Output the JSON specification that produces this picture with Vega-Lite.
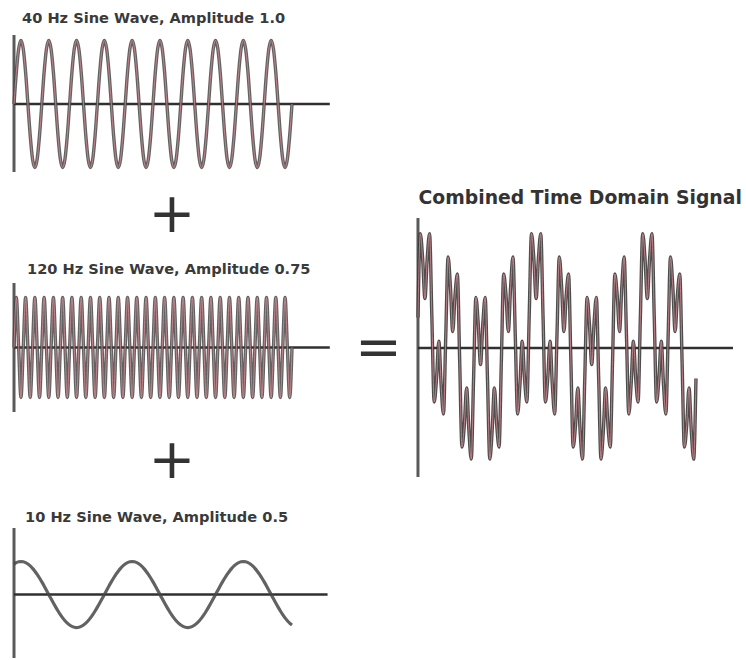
{
  "$schema": "https://vega.github.io/schema/vega-lite/v6.json",
  "width": 746,
  "height": 660,
  "autosize": {"type": "none"},
  "padding": 0,
  "background": "white",
  "config": {"view": {"stroke": null}},
  "datasets": {
    "signals": [
      {"t": 0, "a": 0, "b": 0, "c": 0.4619, "s": 0.4619},
      {"t": 2.083, "a": 0.5, "b": 0.75, "c": 0.483, "s": 1.733},
      {"t": 4.167, "a": 0.866, "b": 0, "c": 0.4957, "s": 1.3617},
      {"t": 6.25, "a": 1, "b": -0.75, "c": 0.5, "s": 0.75},
      {"t": 8.333, "a": 0.866, "b": 0, "c": 0.4957, "s": 1.3617},
      {"t": 10.417, "a": 0.5, "b": 0.75, "c": 0.483, "s": 1.733},
      {"t": 12.5, "a": 0, "b": 0, "c": 0.4619, "s": 0.4619},
      {"t": 14.583, "a": -0.5, "b": -0.75, "c": 0.433, "s": -0.817},
      {"t": 16.667, "a": -0.866, "b": 0, "c": 0.3967, "s": -0.4693},
      {"t": 18.75, "a": -1, "b": 0.75, "c": 0.3536, "s": 0.1036},
      {"t": 20.833, "a": -0.866, "b": 0, "c": 0.3044, "s": -0.5616},
      {"t": 22.917, "a": -0.5, "b": -0.75, "c": 0.25, "s": -1},
      {"t": 25, "a": 0, "b": 0, "c": 0.1913, "s": 0.1913},
      {"t": 27.083, "a": 0.5, "b": 0.75, "c": 0.1294, "s": 1.3794},
      {"t": 29.167, "a": 0.866, "b": 0, "c": 0.0653, "s": 0.9313},
      {"t": 31.25, "a": 1, "b": -0.75, "c": 0, "s": 0.25},
      {"t": 33.333, "a": 0.866, "b": 0, "c": -0.0653, "s": 0.8007},
      {"t": 35.417, "a": 0.5, "b": 0.75, "c": -0.1294, "s": 1.1206},
      {"t": 37.5, "a": 0, "b": 0, "c": -0.1913, "s": -0.1913},
      {"t": 39.583, "a": -0.5, "b": -0.75, "c": -0.25, "s": -1.5},
      {"t": 41.667, "a": -0.866, "b": 0, "c": -0.3044, "s": -1.1704},
      {"t": 43.75, "a": -1, "b": 0.75, "c": -0.3536, "s": -0.6036},
      {"t": 45.833, "a": -0.866, "b": 0, "c": -0.3967, "s": -1.2627},
      {"t": 47.917, "a": -0.5, "b": -0.75, "c": -0.433, "s": -1.683},
      {"t": 50, "a": 0, "b": 0, "c": -0.4619, "s": -0.4619},
      {"t": 52.083, "a": 0.5, "b": 0.75, "c": -0.483, "s": 0.767},
      {"t": 54.167, "a": 0.866, "b": 0, "c": -0.4957, "s": 0.3703},
      {"t": 56.25, "a": 1, "b": -0.75, "c": -0.5, "s": -0.25},
      {"t": 58.333, "a": 0.866, "b": 0, "c": -0.4957, "s": 0.3703},
      {"t": 60.417, "a": 0.5, "b": 0.75, "c": -0.483, "s": 0.767},
      {"t": 62.5, "a": 0, "b": 0, "c": -0.4619, "s": -0.4619},
      {"t": 64.583, "a": -0.5, "b": -0.75, "c": -0.433, "s": -1.683},
      {"t": 66.667, "a": -0.866, "b": 0, "c": -0.3967, "s": -1.2627},
      {"t": 68.75, "a": -1, "b": 0.75, "c": -0.3536, "s": -0.6036},
      {"t": 70.833, "a": -0.866, "b": 0, "c": -0.3044, "s": -1.1704},
      {"t": 72.917, "a": -0.5, "b": -0.75, "c": -0.25, "s": -1.5},
      {"t": 75, "a": 0, "b": 0, "c": -0.1913, "s": -0.1913},
      {"t": 77.083, "a": 0.5, "b": 0.75, "c": -0.1294, "s": 1.1206},
      {"t": 79.167, "a": 0.866, "b": 0, "c": -0.0653, "s": 0.8007},
      {"t": 81.25, "a": 1, "b": -0.75, "c": 0, "s": 0.25},
      {"t": 83.333, "a": 0.866, "b": 0, "c": 0.0653, "s": 0.9313},
      {"t": 85.417, "a": 0.5, "b": 0.75, "c": 0.1294, "s": 1.3794},
      {"t": 87.5, "a": 0, "b": 0, "c": 0.1913, "s": 0.1913},
      {"t": 89.583, "a": -0.5, "b": -0.75, "c": 0.25, "s": -1},
      {"t": 91.667, "a": -0.866, "b": 0, "c": 0.3044, "s": -0.5616},
      {"t": 93.75, "a": -1, "b": 0.75, "c": 0.3536, "s": 0.1036},
      {"t": 95.833, "a": -0.866, "b": 0, "c": 0.3967, "s": -0.4693},
      {"t": 97.917, "a": -0.5, "b": -0.75, "c": 0.433, "s": -0.817},
      {"t": 100, "a": 0, "b": 0, "c": 0.4619, "s": 0.4619},
      {"t": 102.083, "a": 0.5, "b": 0.75, "c": 0.483, "s": 1.733},
      {"t": 104.167, "a": 0.866, "b": 0, "c": 0.4957, "s": 1.3617},
      {"t": 106.25, "a": 1, "b": -0.75, "c": 0.5, "s": 0.75},
      {"t": 108.333, "a": 0.866, "b": 0, "c": 0.4957, "s": 1.3617},
      {"t": 110.417, "a": 0.5, "b": 0.75, "c": 0.483, "s": 1.733},
      {"t": 112.5, "a": 0, "b": 0, "c": 0.4619, "s": 0.4619},
      {"t": 114.583, "a": -0.5, "b": -0.75, "c": 0.433, "s": -0.817},
      {"t": 116.667, "a": -0.866, "b": 0, "c": 0.3967, "s": -0.4693},
      {"t": 118.75, "a": -1, "b": 0.75, "c": 0.3536, "s": 0.1036},
      {"t": 120.833, "a": -0.866, "b": 0, "c": 0.3044, "s": -0.5616},
      {"t": 122.917, "a": -0.5, "b": -0.75, "c": 0.25, "s": -1},
      {"t": 125, "a": 0, "b": 0, "c": 0.1913, "s": 0.1913},
      {"t": 127.083, "a": 0.5, "b": 0.75, "c": 0.1294, "s": 1.3794},
      {"t": 129.167, "a": 0.866, "b": 0, "c": 0.0653, "s": 0.9313},
      {"t": 131.25, "a": 1, "b": -0.75, "c": 0, "s": 0.25},
      {"t": 133.333, "a": 0.866, "b": 0, "c": -0.0653, "s": 0.8007},
      {"t": 135.417, "a": 0.5, "b": 0.75, "c": -0.1294, "s": 1.1206},
      {"t": 137.5, "a": 0, "b": 0, "c": -0.1913, "s": -0.1913},
      {"t": 139.583, "a": -0.5, "b": -0.75, "c": -0.25, "s": -1.5},
      {"t": 141.667, "a": -0.866, "b": 0, "c": -0.3044, "s": -1.1704},
      {"t": 143.75, "a": -1, "b": 0.75, "c": -0.3536, "s": -0.6036},
      {"t": 145.833, "a": -0.866, "b": 0, "c": -0.3967, "s": -1.2627},
      {"t": 147.917, "a": -0.5, "b": -0.75, "c": -0.433, "s": -1.683},
      {"t": 150, "a": 0, "b": 0, "c": -0.4619, "s": -0.4619},
      {"t": 152.083, "a": 0.5, "b": 0.75, "c": -0.483, "s": 0.767},
      {"t": 154.167, "a": 0.866, "b": 0, "c": -0.4957, "s": 0.3703},
      {"t": 156.25, "a": 1, "b": -0.75, "c": -0.5, "s": -0.25},
      {"t": 158.333, "a": 0.866, "b": 0, "c": -0.4957, "s": 0.3703},
      {"t": 160.417, "a": 0.5, "b": 0.75, "c": -0.483, "s": 0.767},
      {"t": 162.5, "a": 0, "b": 0, "c": -0.4619, "s": -0.4619},
      {"t": 164.583, "a": -0.5, "b": -0.75, "c": -0.433, "s": -1.683},
      {"t": 166.667, "a": -0.866, "b": 0, "c": -0.3967, "s": -1.2627},
      {"t": 168.75, "a": -1, "b": 0.75, "c": -0.3536, "s": -0.6036},
      {"t": 170.833, "a": -0.866, "b": 0, "c": -0.3044, "s": -1.1704},
      {"t": 172.917, "a": -0.5, "b": -0.75, "c": -0.25, "s": -1.5},
      {"t": 175, "a": 0, "b": 0, "c": -0.1913, "s": -0.1913},
      {"t": 177.083, "a": 0.5, "b": 0.75, "c": -0.1294, "s": 1.1206},
      {"t": 179.167, "a": 0.866, "b": 0, "c": -0.0653, "s": 0.8007},
      {"t": 181.25, "a": 1, "b": -0.75, "c": 0, "s": 0.25},
      {"t": 183.333, "a": 0.866, "b": 0, "c": 0.0653, "s": 0.9313},
      {"t": 185.417, "a": 0.5, "b": 0.75, "c": 0.1294, "s": 1.3794},
      {"t": 187.5, "a": 0, "b": 0, "c": 0.1913, "s": 0.1913},
      {"t": 189.583, "a": -0.5, "b": -0.75, "c": 0.25, "s": -1},
      {"t": 191.667, "a": -0.866, "b": 0, "c": 0.3044, "s": -0.5616},
      {"t": 193.75, "a": -1, "b": 0.75, "c": 0.3536, "s": 0.1036},
      {"t": 195.833, "a": -0.866, "b": 0, "c": 0.3967, "s": -0.4693},
      {"t": 197.917, "a": -0.5, "b": -0.75, "c": 0.433, "s": -0.817},
      {"t": 200, "a": 0, "b": 0, "c": 0.4619, "s": 0.4619},
      {"t": 202.083, "a": 0.5, "b": 0.75, "c": 0.483, "s": 1.733},
      {"t": 204.167, "a": 0.866, "b": 0, "c": 0.4957, "s": 1.3617},
      {"t": 206.25, "a": 1, "b": -0.75, "c": 0.5, "s": 0.75},
      {"t": 208.333, "a": 0.866, "b": 0, "c": 0.4957, "s": 1.3617},
      {"t": 210.417, "a": 0.5, "b": 0.75, "c": 0.483, "s": 1.733},
      {"t": 212.5, "a": 0, "b": 0, "c": 0.4619, "s": 0.4619},
      {"t": 214.583, "a": -0.5, "b": -0.75, "c": 0.433, "s": -0.817},
      {"t": 216.667, "a": -0.866, "b": 0, "c": 0.3967, "s": -0.4693},
      {"t": 218.75, "a": -1, "b": 0.75, "c": 0.3536, "s": 0.1036},
      {"t": 220.833, "a": -0.866, "b": 0, "c": 0.3044, "s": -0.5616},
      {"t": 222.917, "a": -0.5, "b": -0.75, "c": 0.25, "s": -1},
      {"t": 225, "a": 0, "b": 0, "c": 0.1913, "s": 0.1913},
      {"t": 227.083, "a": 0.5, "b": 0.75, "c": 0.1294, "s": 1.3794},
      {"t": 229.167, "a": 0.866, "b": 0, "c": 0.0653, "s": 0.9313},
      {"t": 231.25, "a": 1, "b": -0.75, "c": 0, "s": 0.25},
      {"t": 233.333, "a": 0.866, "b": 0, "c": -0.0653, "s": 0.8007},
      {"t": 235.417, "a": 0.5, "b": 0.75, "c": -0.1294, "s": 1.1206},
      {"t": 237.5, "a": 0, "b": 0, "c": -0.1913, "s": -0.1913},
      {"t": 239.583, "a": -0.5, "b": -0.75, "c": -0.25, "s": -1.5},
      {"t": 241.667, "a": -0.866, "b": 0, "c": -0.3044, "s": -1.1704},
      {"t": 243.75, "a": -1, "b": 0.75, "c": -0.3536, "s": -0.6036},
      {"t": 245.833, "a": -0.866, "b": 0, "c": -0.3967, "s": -1.2627},
      {"t": 247.917, "a": -0.5, "b": -0.75, "c": -0.433, "s": -1.683},
      {"t": 250, "a": 0, "b": 0, "c": -0.4619, "s": -0.4619}
    ]
  },
  "layer": [
    {
      "layer": [
        {
          "data": {"values": [{}]},
          "mark": {"type": "rule", "color": "#5a5a5a", "strokeWidth": 3},
          "encoding": {
            "x": {"datum": 0, "type": "quantitative", "scale": {"domain": [-12.6, 658.3], "nice": false, "zero": false}, "axis": null},
            "y": {"datum": -1.071, "type": "quantitative", "scale": {"domain": [-8.756, 1.638], "nice": false, "zero": false}, "axis": null},
            "y2": {"datum": 1.087}
          }
        },
        {
          "data": {"values": [{}]},
          "mark": {"type": "rule", "color": "#303030", "strokeWidth": 2.5},
          "encoding": {
            "x": {"datum": 0, "type": "quantitative", "scale": {"domain": [-12.6, 658.3], "nice": false, "zero": false}, "axis": null},
            "x2": {"datum": 284},
            "y": {"datum": 0, "type": "quantitative", "scale": {"domain": [-8.756, 1.638], "nice": false, "zero": false}, "axis": null}
          }
        },
        {
          "data": {"name": "signals"},
          "mark": {"type": "line", "interpolate": "monotone", "color": "#474747", "strokeWidth": 3.4, "opacity": 0.85},
          "encoding": {
            "x": {"field": "t", "type": "quantitative", "scale": {"domain": [-12.6, 658.3], "nice": false, "zero": false}, "axis": null},
            "y": {"field": "a", "type": "quantitative", "scale": {"domain": [-8.756, 1.638], "nice": false, "zero": false}, "axis": null}
          }
        },
        {
          "data": {"name": "signals"},
          "mark": {"type": "line", "interpolate": "monotone", "color": "#d08a90", "strokeWidth": 1, "opacity": 0.85},
          "encoding": {
            "x": {"field": "t", "type": "quantitative", "scale": {"domain": [-12.6, 658.3], "nice": false, "zero": false}, "axis": null},
            "y": {"field": "a", "type": "quantitative", "scale": {"domain": [-8.756, 1.638], "nice": false, "zero": false}, "axis": null}
          }
        },
        {
          "data": {"values": [{}]},
          "mark": {"type": "text", "text": "40 Hz Sine Wave, Amplitude 1.0", "align": "left", "baseline": "alphabetic", "font": "DejaVu Sans", "fontWeight": "bold", "fontSize": 14.6, "color": "#3a3a3a"},
          "encoding": {
            "x": {"datum": 7.2, "type": "quantitative", "scale": {"domain": [-12.6, 658.3], "nice": false, "zero": false}, "axis": null},
            "y": {"datum": 1.283, "type": "quantitative", "scale": {"domain": [-8.756, 1.638], "nice": false, "zero": false}, "axis": null}
          }
        },
        {
          "data": {"values": [{}]},
          "mark": {"type": "text", "text": "+", "align": "center", "baseline": "middle", "font": "DejaVu Sans", "fontSize": 56, "color": "#333333"},
          "encoding": {
            "x": {"datum": 142.1, "type": "quantitative", "scale": {"domain": [-12.6, 658.3], "nice": false, "zero": false}, "axis": null},
            "y": {"datum": -1.748, "type": "quantitative", "scale": {"domain": [-8.756, 1.638], "nice": false, "zero": false}, "axis": null}
          }
        }
      ]
    },
    {
      "layer": [
        {
          "data": {"values": [{}]},
          "mark": {"type": "rule", "color": "#5a5a5a", "strokeWidth": 3},
          "encoding": {
            "x": {"datum": 0, "type": "quantitative", "scale": {"domain": [-12.6, 658.3], "nice": false, "zero": false}, "axis": null},
            "y": {"datum": -0.967, "type": "quantitative", "scale": {"domain": [-4.685, 5.21], "nice": false, "zero": false}, "axis": null},
            "y2": {"datum": 0.967}
          }
        },
        {
          "data": {"values": [{}]},
          "mark": {"type": "rule", "color": "#303030", "strokeWidth": 2.5},
          "encoding": {
            "x": {"datum": 0, "type": "quantitative", "scale": {"domain": [-12.6, 658.3], "nice": false, "zero": false}, "axis": null},
            "x2": {"datum": 284},
            "y": {"datum": 0, "type": "quantitative", "scale": {"domain": [-4.685, 5.21], "nice": false, "zero": false}, "axis": null}
          }
        },
        {
          "data": {"name": "signals"},
          "mark": {"type": "line", "interpolate": "monotone", "color": "#474747", "strokeWidth": 3.4, "opacity": 0.85},
          "encoding": {
            "x": {"field": "t", "type": "quantitative", "scale": {"domain": [-12.6, 658.3], "nice": false, "zero": false}, "axis": null},
            "y": {"field": "b", "type": "quantitative", "scale": {"domain": [-4.685, 5.21], "nice": false, "zero": false}, "axis": null}
          }
        },
        {
          "data": {"name": "signals"},
          "mark": {"type": "line", "interpolate": "monotone", "color": "#d08a90", "strokeWidth": 1, "opacity": 0.85},
          "encoding": {
            "x": {"field": "t", "type": "quantitative", "scale": {"domain": [-12.6, 658.3], "nice": false, "zero": false}, "axis": null},
            "y": {"field": "b", "type": "quantitative", "scale": {"domain": [-4.685, 5.21], "nice": false, "zero": false}, "axis": null}
          }
        },
        {
          "data": {"values": [{}]},
          "mark": {"type": "text", "text": "120 Hz Sine Wave, Amplitude 0.75", "align": "left", "baseline": "alphabetic", "font": "DejaVu Sans", "fontWeight": "bold", "fontSize": 14.6, "color": "#3a3a3a"},
          "encoding": {
            "x": {"datum": 11.7, "type": "quantitative", "scale": {"domain": [-12.6, 658.3], "nice": false, "zero": false}, "axis": null},
            "y": {"datum": 1.102, "type": "quantitative", "scale": {"domain": [-4.685, 5.21], "nice": false, "zero": false}, "axis": null}
          }
        },
        {
          "data": {"values": [{}]},
          "mark": {"type": "text", "text": "+", "align": "center", "baseline": "middle", "font": "DejaVu Sans", "fontSize": 56, "color": "#333333"},
          "encoding": {
            "x": {"datum": 142.1, "type": "quantitative", "scale": {"domain": [-12.6, 658.3], "nice": false, "zero": false}, "axis": null},
            "y": {"datum": -1.702, "type": "quantitative", "scale": {"domain": [-4.685, 5.21], "nice": false, "zero": false}, "axis": null}
          }
        }
      ]
    },
    {
      "layer": [
        {
          "data": {"values": [{}]},
          "mark": {"type": "rule", "color": "#5a5a5a", "strokeWidth": 3},
          "encoding": {
            "x": {"datum": 0, "type": "quantitative", "scale": {"domain": [-12.6, 658.3], "nice": false, "zero": false}, "axis": null},
            "y": {"datum": -0.962, "type": "quantitative", "scale": {"domain": [-0.992, 9.008], "nice": false, "zero": false}, "axis": null},
            "y2": {"datum": 1.008}
          }
        },
        {
          "data": {"values": [{}]},
          "mark": {"type": "rule", "color": "#303030", "strokeWidth": 2.5},
          "encoding": {
            "x": {"datum": 0, "type": "quantitative", "scale": {"domain": [-12.6, 658.3], "nice": false, "zero": false}, "axis": null},
            "x2": {"datum": 282},
            "y": {"datum": 0, "type": "quantitative", "scale": {"domain": [-0.992, 9.008], "nice": false, "zero": false}, "axis": null}
          }
        },
        {
          "data": {"name": "signals"},
          "mark": {"type": "line", "interpolate": "monotone", "color": "#474747", "strokeWidth": 3.2, "opacity": 0.85},
          "encoding": {
            "x": {"field": "t", "type": "quantitative", "scale": {"domain": [-12.6, 658.3], "nice": false, "zero": false}, "axis": null},
            "y": {"field": "c", "type": "quantitative", "scale": {"domain": [-0.992, 9.008], "nice": false, "zero": false}, "axis": null}
          }
        },
        {
          "data": {"values": [{}]},
          "mark": {"type": "text", "text": "10 Hz Sine Wave, Amplitude 0.5", "align": "left", "baseline": "alphabetic", "font": "DejaVu Sans", "fontWeight": "bold", "fontSize": 14.6, "color": "#3a3a3a"},
          "encoding": {
            "x": {"datum": 9.9, "type": "quantitative", "scale": {"domain": [-12.6, 658.3], "nice": false, "zero": false}, "axis": null},
            "y": {"datum": 1.106, "type": "quantitative", "scale": {"domain": [-0.992, 9.008], "nice": false, "zero": false}, "axis": null}
          }
        }
      ]
    },
    {
      "layer": [
        {
          "data": {"values": [{}]},
          "mark": {"type": "rule", "color": "#5a5a5a", "strokeWidth": 3},
          "encoding": {
            "x": {"datum": 0, "type": "quantitative", "scale": {"domain": [-375.9, 295], "nice": false, "zero": false}, "axis": null},
            "y": {"datum": -1.955, "type": "quantitative", "scale": {"domain": [-4.727, 5.273], "nice": false, "zero": false}, "axis": null},
            "y2": {"datum": 1.97}
          }
        },
        {
          "data": {"values": [{}]},
          "mark": {"type": "rule", "color": "#303030", "strokeWidth": 2.5},
          "encoding": {
            "x": {"datum": 0, "type": "quantitative", "scale": {"domain": [-375.9, 295], "nice": false, "zero": false}, "axis": null},
            "x2": {"datum": 283.3},
            "y": {"datum": 0, "type": "quantitative", "scale": {"domain": [-4.727, 5.273], "nice": false, "zero": false}, "axis": null}
          }
        },
        {
          "data": {"name": "signals"},
          "mark": {"type": "line", "interpolate": "monotone", "color": "#3a3a3a", "strokeWidth": 3.4, "opacity": 0.9},
          "encoding": {
            "x": {"field": "t", "type": "quantitative", "scale": {"domain": [-375.9, 295], "nice": false, "zero": false}, "axis": null},
            "y": {"field": "s", "type": "quantitative", "scale": {"domain": [-4.727, 5.273], "nice": false, "zero": false}, "axis": null}
          }
        },
        {
          "data": {"name": "signals"},
          "mark": {"type": "line", "interpolate": "monotone", "color": "#d08a90", "strokeWidth": 1, "opacity": 0.85},
          "encoding": {
            "x": {"field": "t", "type": "quantitative", "scale": {"domain": [-375.9, 295], "nice": false, "zero": false}, "axis": null},
            "y": {"field": "s", "type": "quantitative", "scale": {"domain": [-4.727, 5.273], "nice": false, "zero": false}, "axis": null}
          }
        },
        {
          "data": {"values": [{}]},
          "mark": {"type": "text", "text": "Combined Time Domain Signal", "align": "left", "baseline": "alphabetic", "font": "DejaVu Sans", "fontWeight": "bold", "fontSize": 18.8, "color": "#333333"},
          "encoding": {
            "x": {"datum": 0.5, "type": "quantitative", "scale": {"domain": [-375.9, 295], "nice": false, "zero": false}, "axis": null},
            "y": {"datum": 2.18, "type": "quantitative", "scale": {"domain": [-4.727, 5.273], "nice": false, "zero": false}, "axis": null}
          }
        },
        {
          "data": {"values": [{}]},
          "mark": {"type": "text", "text": "=", "align": "center", "baseline": "middle", "font": "DejaVu Sans", "fontSize": 56, "color": "#333333"},
          "encoding": {
            "x": {"datum": -35.5, "type": "quantitative", "scale": {"domain": [-375.9, 295], "nice": false, "zero": false}, "axis": null},
            "y": {"datum": -0.015, "type": "quantitative", "scale": {"domain": [-4.727, 5.273], "nice": false, "zero": false}, "axis": null}
          }
        }
      ]
    }
  ],
  "resolve": {"scale": {"x": "independent", "y": "independent"}}
}
